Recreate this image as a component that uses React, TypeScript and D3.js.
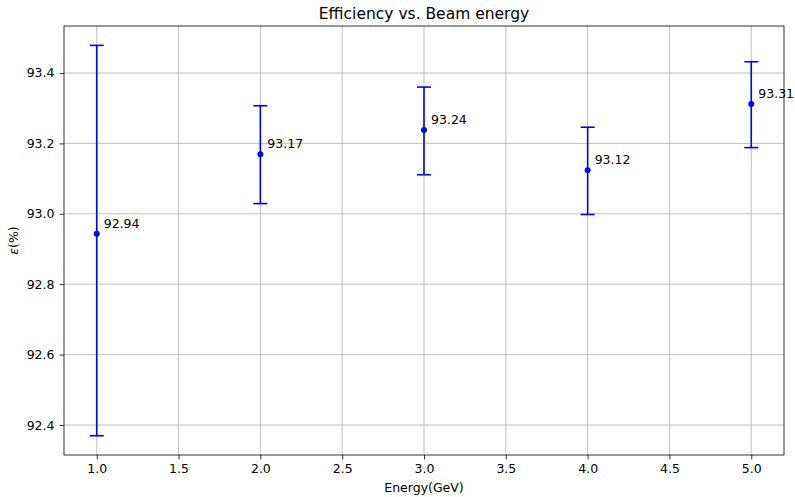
import React, { useRef, useEffect } from 'react'
import * as d3 from 'd3'

// beam energies (GeV), efficiency (%) and its lower / upper errors
const energies = [1, 2, 3, 4, 5]
const efficiency = [92.9435, 93.169, 93.238, 93.124, 93.312]
const errLow = [0.574, 0.14, 0.127, 0.126, 0.124]
const errHigh = [0.535, 0.138, 0.122, 0.122, 0.12]
const xTicks = [1.0, 1.5, 2.0, 2.5, 3.0, 3.5, 4.0, 4.5, 5.0]
const yTicks = [92.4, 92.6, 92.8, 93.0, 93.2, 93.4]

const W = 795
const H = 497

export default function App() {
    const svgEl = useRef<SVGSVGElement>(null)

    useEffect(() => {
        if (!svgEl.current) return
        const margin = { top: 26, right: 11, bottom: 42, left: 64 }
        const width = W - margin.left - margin.right
        const height = H - margin.top - margin.bottom

        const root = d3.select(svgEl.current)
        root.selectAll('*').remove()
        root.append('rect').attr('width', W).attr('height', H).attr('fill', 'white')

        const svg = root.append('g')
            .attr('transform', `translate(${margin.left}, ${margin.top})`)
            .style('font-family', '"DejaVu Sans", sans-serif')

        const xScale = d3.scaleLinear().domain([0.8, 5.2]).range([0, width])
        const yScale = d3.scaleLinear().domain([92.3148, 93.5335]).range([height, 0])

        // grid
        svg.append('g').selectAll('line')
            .data(xTicks).enter().append('line')
            .attr('x1', d => xScale(d)).attr('x2', d => xScale(d))
            .attr('y1', 0).attr('y2', height)
            .attr('stroke', '#b0b0b0').attr('stroke-width', 0.8)
        svg.append('g').selectAll('line')
            .data(yTicks).enter().append('line')
            .attr('y1', d => yScale(d)).attr('y2', d => yScale(d))
            .attr('x1', 0).attr('x2', width)
            .attr('stroke', '#b0b0b0').attr('stroke-width', 0.8)

        // x-axis
        const xAxis = svg.append('g')
            .attr('transform', `translate(0,${height})`)
            .call(d3.axisBottom(xScale).tickValues(xTicks).tickFormat(d3.format('.1f')).tickSize(4.5).tickPadding(5))
        // y-axis
        const yAxis = svg.append('g')
            .call(d3.axisLeft(yScale).tickValues(yTicks).tickFormat(d3.format('.1f')).tickSize(4.5).tickPadding(5))
        ;[xAxis, yAxis].forEach(a => {
            a.select('.domain').remove()
            a.selectAll('line').attr('stroke', '#000').attr('stroke-width', 0.8)
            a.selectAll('text').attr('fill', '#000').style('font-size', '12.5px')
                .style('font-family', '"DejaVu Sans", sans-serif')
        })

        // frame
        svg.append('rect').attr('width', width).attr('height', height)
            .attr('fill', 'none').attr('stroke', '#000').attr('stroke-width', 0.8)

        const pts = energies.map((e, i) => ({ e, v: efficiency[i], lo: errLow[i], hi: errHigh[i] }))

        // error bars
        const bars = svg.append('g').attr('stroke', '#0000ff').attr('stroke-width', 1.6)
        bars.selectAll('.v').data(pts).enter().append('line')
            .attr('x1', d => xScale(d.e)).attr('x2', d => xScale(d.e))
            .attr('y1', d => yScale(d.v - d.lo)).attr('y2', d => yScale(d.v + d.hi))
        bars.selectAll('.ctop').data(pts).enter().append('line')
            .attr('x1', d => xScale(d.e) - 7).attr('x2', d => xScale(d.e) + 7)
            .attr('y1', d => yScale(d.v + d.hi)).attr('y2', d => yScale(d.v + d.hi))
        bars.selectAll('.cbot').data(pts).enter().append('line')
            .attr('x1', d => xScale(d.e) - 7).attr('x2', d => xScale(d.e) + 7)
            .attr('y1', d => yScale(d.v - d.lo)).attr('y2', d => yScale(d.v - d.lo))

        svg.selectAll('.pt').data(pts).enter().append('circle')
            .attr('cx', d => xScale(d.e)).attr('cy', d => yScale(d.v))
            .attr('r', 3).attr('fill', '#0000ff')

        svg.selectAll('.lbl').data(pts).enter().append('text')
            .attr('x', d => xScale(d.e) + 7).attr('y', d => yScale(d.v) - 6)
            .style('font-size', '12.5px').attr('fill', '#000')
            .text(d => d.v.toFixed(2))

        // labels
        svg.append('text').attr('x', width / 2).attr('y', -7)
            .attr('text-anchor', 'middle').style('font-size', '15.5px')
            .text('Efficiency vs. Beam energy')
        svg.append('text').attr('x', width / 2).attr('y', height + 37)
            .attr('text-anchor', 'middle').style('font-size', '12.5px')
            .text('Energy(GeV)')
        const yl = svg.append('text')
            .attr('transform', `translate(${-46}, ${height / 2}) rotate(-90)`)
            .attr('text-anchor', 'middle').style('font-size', '12.5px')
        yl.append('tspan').style('font-style', 'italic').text('ε')
        yl.append('tspan').text('(%)')
    }, [])

    return (
        <div>
            <svg ref={svgEl} width={W} height={H} style={{ position: 'absolute', left: 0, top: 0 }} />
        </div>
    )
}
